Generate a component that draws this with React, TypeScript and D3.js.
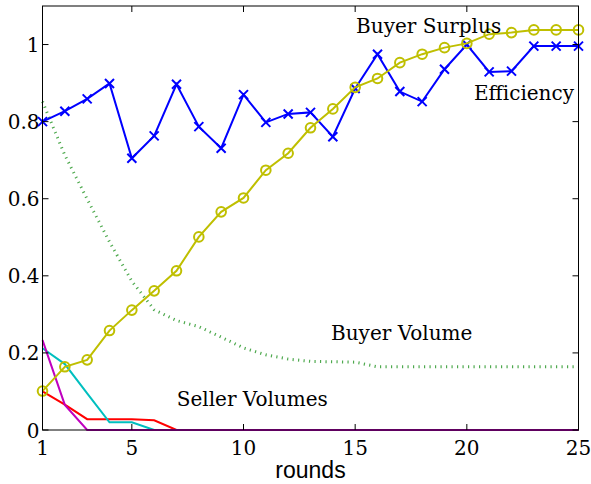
import React from 'react'
import * as d3 from 'd3'

const rounds = d3.range(1, 26)

const efficiency = [
  0.8, 0.827, 0.859, 0.899, 0.705, 0.763, 0.897, 0.787, 0.731, 0.87, 0.798, 0.82, 0.824,
  0.761, 0.886, 0.975, 0.878, 0.852, 0.936, 1.0, 0.929, 0.931, 0.996, 0.996, 0.996,
]
const buyerSurplus = [
  0.101, 0.164, 0.182, 0.258, 0.311, 0.361, 0.413, 0.501, 0.566, 0.602, 0.674, 0.718, 0.784,
  0.833, 0.889, 0.912, 0.953, 0.975, 0.992, 1.003, 1.027, 1.031, 1.038, 1.038, 1.038,
]
const buyerVolume = [
  0.852, 0.713, 0.599, 0.488, 0.386, 0.312, 0.284, 0.268, 0.241, 0.213, 0.195, 0.184, 0.178,
  0.177, 0.176, 0.164, 0.164, 0.164, 0.164, 0.164, 0.164, 0.164, 0.164, 0.164, 0.164,
]
const sellerRed = [0.1, 0.066, 0.028, 0.028, 0.028, 0.025, 0, 0, 0, 0, 0, 0, 0, 0, 0, 0, 0, 0, 0, 0, 0, 0, 0, 0, 0]
const sellerCyan = [0.212, 0.171, 0.095, 0.02, 0.02, 0, 0, 0, 0, 0, 0, 0, 0, 0, 0, 0, 0, 0, 0, 0, 0, 0, 0, 0, 0]
const sellerMagenta = [0.233, 0.065, 0, 0, 0, 0, 0, 0, 0, 0, 0, 0, 0, 0, 0, 0, 0, 0, 0, 0, 0, 0, 0, 0, 0]

const xTicks = [1, 5, 10, 15, 20, 25]
const yTicks = [0, 0.2, 0.4, 0.6, 0.8, 1]

const width = 591
const height = 484
const margin = { top: 6, right: 12.5, bottom: 54, left: 42.5 }

const serif = '"DejaVu Serif", serif'

const App = () => {
  const x = d3.scaleLinear().domain([1, 25]).range([margin.left, width - margin.right])
  const y = d3.scaleLinear().domain([0, 1.1]).range([height - margin.bottom, margin.top])
  const line = d3
    .line<number>()
    .x((_, i) => x(rounds[i]))
    .y((d) => y(d))

  const x0 = margin.left
  const x1 = width - margin.right
  const y0 = height - margin.bottom
  const y1 = margin.top
  const tickLen = 6

  return (
    <>
      <style>{'body{margin:0}'}</style>
      <svg width={width} height={height} style={{ display: 'block', background: '#fff' }}>
        {/* buyer volume */}
        <path
          d={line(buyerVolume) ?? ''}
          fill="none"
          stroke="#2f9a2f"
          strokeOpacity={0.85}
          strokeWidth={3}
          strokeDasharray="1.2 4.3"
        />

        {/* seller volumes */}
        <path d={line(sellerRed) ?? ''} fill="none" stroke="#ff0000" strokeWidth={2} />
        <path d={line(sellerCyan) ?? ''} fill="none" stroke="#00bfbf" strokeWidth={2} />
        <path d={line(sellerMagenta) ?? ''} fill="none" stroke="#bf00bf" strokeWidth={2} />

        {/* efficiency */}
        <path d={line(efficiency) ?? ''} fill="none" stroke="#0000ff" strokeWidth={2} />
        {efficiency.map((d, i) => {
          const cx = x(rounds[i])
          const cy = y(d)
          const s = 4.5
          return (
            <path
              key={'e' + i}
              d={`M${cx - s},${cy - s}L${cx + s},${cy + s}M${cx - s},${cy + s}L${cx + s},${cy - s}`}
              stroke="#0000ff"
              strokeWidth={2}
            />
          )
        })}

        {/* buyer surplus */}
        <path d={line(buyerSurplus) ?? ''} fill="none" stroke="#bfbf00" strokeWidth={2} />
        {buyerSurplus.map((d, i) => (
          <circle
            key={'b' + i}
            cx={x(rounds[i])}
            cy={y(d)}
            r={4.8}
            fill="none"
            stroke="#bfbf00"
            strokeWidth={2}
          />
        ))}

        {/* axes box */}
        <rect x={x0} y={y1} width={x1 - x0} height={y0 - y1} fill="none" stroke="#000" strokeWidth={1} />
        {xTicks.map((t) => (
          <g key={'xt' + t}>
            <line x1={x(t)} x2={x(t)} y1={y0} y2={y0 - tickLen} stroke="#000" />
            <line x1={x(t)} x2={x(t)} y1={y1} y2={y1 + tickLen} stroke="#000" />
            <text
              x={x(t)}
              y={y0 + 25}
              textAnchor="middle"
              fontFamily={serif}
              fontSize={20}
              fill="#000"
            >
              {t}
            </text>
          </g>
        ))}
        {yTicks.map((t) => (
          <g key={'yt' + t}>
            <line x1={x0} x2={x0 + tickLen} y1={y(t)} y2={y(t)} stroke="#000" />
            <line x1={x1} x2={x1 - tickLen} y1={y(t)} y2={y(t)} stroke="#000" />
            <text
              x={x0 - 3}
              y={y(t) + 7.5}
              textAnchor="end"
              fontFamily={serif}
              fontSize={20}
              fill="#000"
            >
              {t}
            </text>
          </g>
        ))}
        <text
          x={(x0 + x1) / 2}
          y={478}
          textAnchor="middle"
          fontFamily='"Liberation Sans", Arial, sans-serif'
          fontSize={23}
          fill="#000"
        >
          rounds
        </text>

        {/* annotations */}
        <text x={x(15.04)} y={y(1.03)} fontFamily={serif} fontSize={20} fill="#000">
          Buyer Surplus
        </text>
        <text x={x(20.32)} y={y(0.855)} fontFamily={serif} fontSize={20} fill="#000">
          Efficiency
        </text>
        <text x={x(13.92)} y={y(0.233)} fontFamily={serif} fontSize={20} fill="#000">
          Buyer Volume
        </text>
        <text x={x(7.01)} y={y(0.063)} fontFamily={serif} fontSize={20} fill="#000">
          Seller Volumes
        </text>
      </svg>
    </>
  )
}

export default App
